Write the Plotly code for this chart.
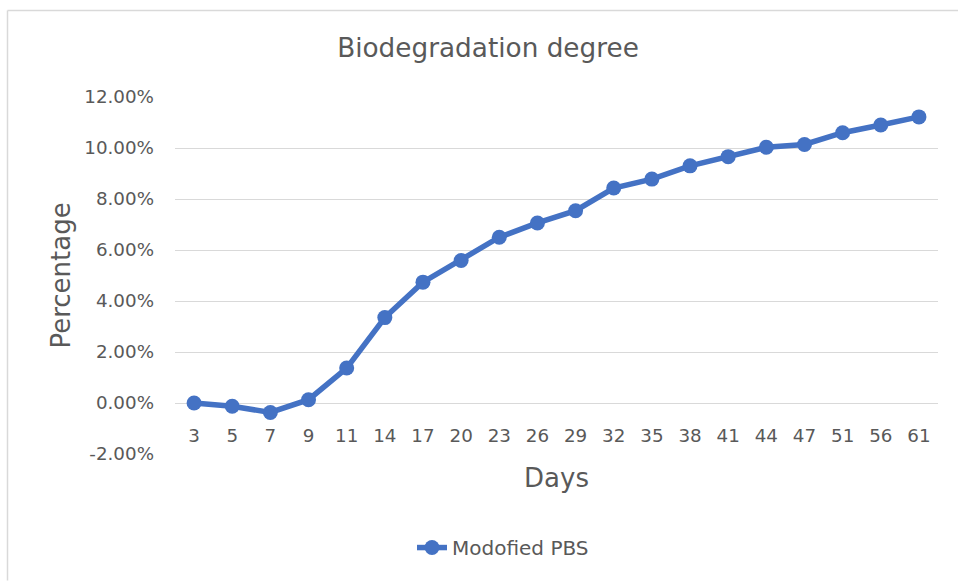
import plotly.graph_objects as go

days = ["3", "5", "7", "9", "11", "14", "17", "20", "23", "26", "29", "32", "35", "38", "41", "44", "47", "51", "56", "61"]
modified_pbs = [0.0000, -0.0013, -0.0037, 0.0013, 0.0137, 0.0335, 0.0474, 0.0559, 0.0650, 0.0706,
                0.0754, 0.0843, 0.0878, 0.0930, 0.0966, 0.1003, 0.1014, 0.1060, 0.1090, 0.1122]
y_tick_values = [-0.02, 0.0, 0.02, 0.04, 0.06, 0.08, 0.10, 0.12]
y_tick_labels = ["-2.00%", "0.00%", "2.00%", "4.00%", "6.00%", "8.00%", "10.00%", "12.00%"]

W, H = 958, 581
L, R, T, B = 175, 938, 96.7, 454.3
pw, ph = R - L, B - T

FONT = "DejaVu Sans"
GRAY = "#595959"
BLUE = "#4472C4"

fig = go.Figure()
fig.add_trace(go.Scatter(
    x=days, y=modified_pbs, mode="lines+markers", name="Modofied PBS",
    line=dict(color=BLUE, width=5.5),
    marker=dict(color=BLUE, size=15),
))

def px_x(x):
    return (x - L) / pw

def px_y(y):
    return (B - y) / ph

fig.update_layout(
    width=W, height=H, autosize=False,
    margin=dict(l=L, r=W - R, t=T, b=H - B, pad=0),
    paper_bgcolor="white", plot_bgcolor="white",
    font=dict(family=FONT, color=GRAY, size=18),
    title=dict(text="Biodegradation degree", font=dict(size=26.3, color=GRAY, family=FONT),
               xref="container", yref="container", x=488 / W, y=1 - 48 / H,
               xanchor="center", yanchor="middle"),
    showlegend=True,
    legend=dict(orientation="h", x=px_x(503), y=px_y(548), xanchor="center", yanchor="middle",
                font=dict(size=20, color=GRAY, family=FONT), bgcolor="rgba(0,0,0,0)"),
    xaxis=dict(type="category", range=[-0.5, len(days) - 0.5], anchor="free", position=2 / 14,
               showgrid=False, showline=False, ticks="", zeroline=False,
               tickfont=dict(size=18.3, color=GRAY), ticklabelstandoff=20,
               title=dict(text="Days", font=dict(size=26, color=GRAY), standoff=23)),
    yaxis=dict(range=[-0.02, 0.12], tickvals=y_tick_values, ticktext=y_tick_labels, domain=[0, 1],
               showgrid=True, gridcolor="#D9D9D9", gridwidth=1.3, zeroline=False, showline=False,
               ticks="", tickfont=dict(size=18.3, color=GRAY), ticklabelstandoff=20,
               title=dict(text="Percentage", font=dict(size=26, color=GRAY), standoff=6)),
    shapes=[
        dict(type="line", xref="paper", yref="paper", x0=px_x(7.5), x1=px_x(7.5), y0=px_y(10), y1=px_y(581),
             line=dict(color="#D9D9D9", width=1.5)),
        dict(type="line", xref="paper", yref="paper", x0=px_x(7.5), x1=px_x(958), y0=px_y(10), y1=px_y(10),
             line=dict(color="#D9D9D9", width=1.5)),
    ],
)

fig.write_html("out.html", config={"displayModeBar": False},
               post_script="document.body.style.margin='0px';")
